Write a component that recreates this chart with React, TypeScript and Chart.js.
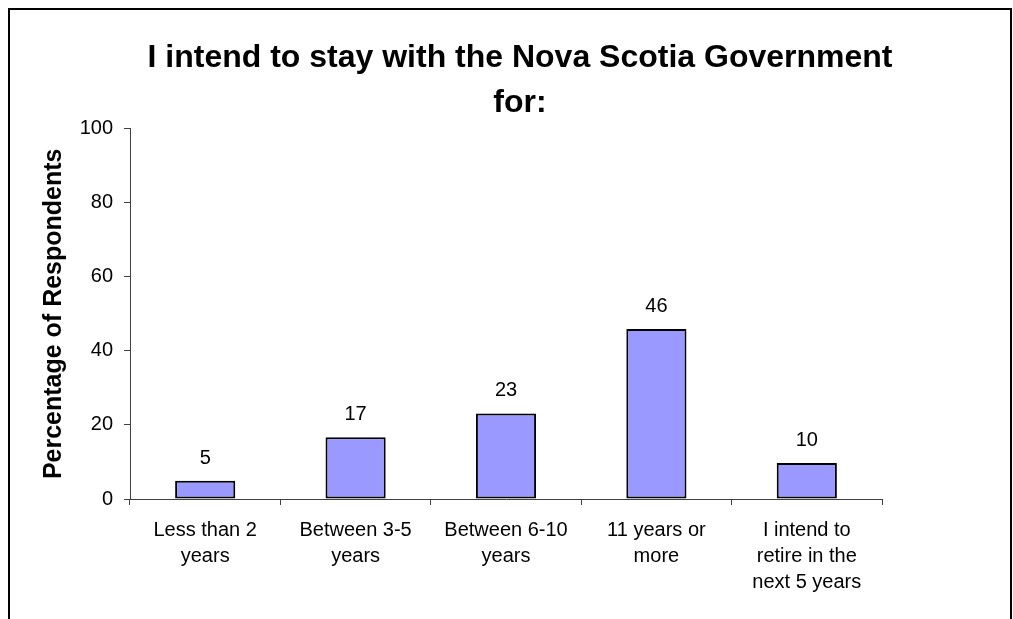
import React, { useEffect, useRef } from "react";
import { Chart, registerables } from "chart.js";

Chart.register(...registerables);

const titleLines = ["I intend to stay with the Nova Scotia Government", "for:"];
const yAxisTitle = "Percentage of Respondents";
const categories = [
  ["Less than 2", "years"],
  ["Between 3-5", "years"],
  ["Between 6-10", "years"],
  ["11 years or", "more"],
  ["I intend to", "retire in the", "next 5 years"],
];
const values = [4.9, 16.7, 23.1, 45.9, 9.7];
const valueLabels = ["5", "17", "23", "46", "10"];
const yMin = 0;
const yMax = 100;
const yStep = 20;

const FONT = "'Liberation Sans', Arial, sans-serif";
const W = 995;
const H = 603;

const valueLabelPlugin = {
  id: "valueLabels",
  afterDatasetsDraw(chart: any) {
    const ctx = chart.ctx;
    const meta = chart.getDatasetMeta(0);
    ctx.save();
    ctx.fillStyle = "#000000";
    ctx.font = `20px ${FONT}`;
    ctx.textAlign = "center";
    ctx.textBaseline = "alphabetic";
    meta.data.forEach((bar: any, i: number) => {
      ctx.fillText(valueLabels[i], bar.x, bar.y - 17);
    });
    ctx.restore();
  },
};

export default function App() {
  const ref = useRef<HTMLCanvasElement | null>(null);
  useEffect(() => {
    document.documentElement.style.overflow = "hidden";
    document.body.style.overflow = "hidden";
    if (!ref.current) return;
    const chart = new Chart(ref.current, {
      type: "bar",
      data: {
        labels: categories as any,
        datasets: [
          {
            data: values,
            backgroundColor: "#9999FF",
            borderColor: "#000000",
            borderWidth: 2,
            borderSkipped: false,
            barPercentage: 0.4,
            categoryPercentage: 1,
            yAxisID: "y",
          },
        ],
      },
      options: {
        responsive: false,
        animation: false,
        events: [],
        layout: { padding: { left: 29, right: 0, top: 0, bottom: 0 } },
        plugins: {
          legend: { display: false },
          tooltip: { enabled: false },
          title: {
            display: true,
            text: titleLines,
            color: "#000000",
            font: { family: FONT, size: 32, weight: "bold", lineHeight: 1.4 },
            padding: { top: 28, bottom: 3 },
          },
        },
        scales: {
          x: {
            offset: true,
            grid: {
              display: true,
              offset: true,
              drawOnChartArea: false,
              drawTicks: true,
              tickLength: 6,
              color: "#404040",
            },
            border: { display: true, color: "#404040", width: 1 },
            ticks: {
              color: "#000000",
              font: { family: FONT, size: 20, lineHeight: 1.3 },
              padding: 12,
              maxRotation: 0,
              minRotation: 0,
              autoSkip: false,
            },
            afterFit(scale: any) {
              scale.height = H - 491;
            },
          },
          y: {
            min: yMin,
            max: yMax,
            grid: {
              display: true,
              drawOnChartArea: false,
              drawTicks: true,
              tickLength: 6,
              color: "#404040",
            },
            border: { display: true, color: "#404040", width: 1 },
            ticks: {
              stepSize: yStep,
              color: "#000000",
              font: { family: FONT, size: 20 },
              padding: 11,
            },
            title: {
              display: true,
              text: yAxisTitle,
              color: "#000000",
              font: { family: FONT, size: 25, weight: "bold", lineHeight: 1.2 },
              padding: { top: 2, bottom: 0 },
            },
            afterFit(scale: any) {
              scale.width = 93;
            },
          },
          yRight: {
            position: "right",
            display: true,
            min: yMin,
            max: yMax,
            grid: { display: false },
            border: { display: false },
            ticks: { display: false },
            afterFit(scale: any) {
              scale.width = 121;
            },
          },
        },
      },
      plugins: [valueLabelPlugin],
    });
    return () => chart.destroy();
  }, []);
  return (
    <div style={{ position: "relative" }}>
      <canvas ref={ref} width={W} height={H} style={{ display: "block", width: W, height: H }} />
      <div
        style={{
          position: "fixed",
          left: 8,
          top: 8,
          right: 1,
          bottom: -10,
          borderTop: "2px solid #000",
          borderLeft: "2px solid #000",
          borderRight: "2px solid #000",
          pointerEvents: "none",
        }}
      />
    </div>
  );
}
